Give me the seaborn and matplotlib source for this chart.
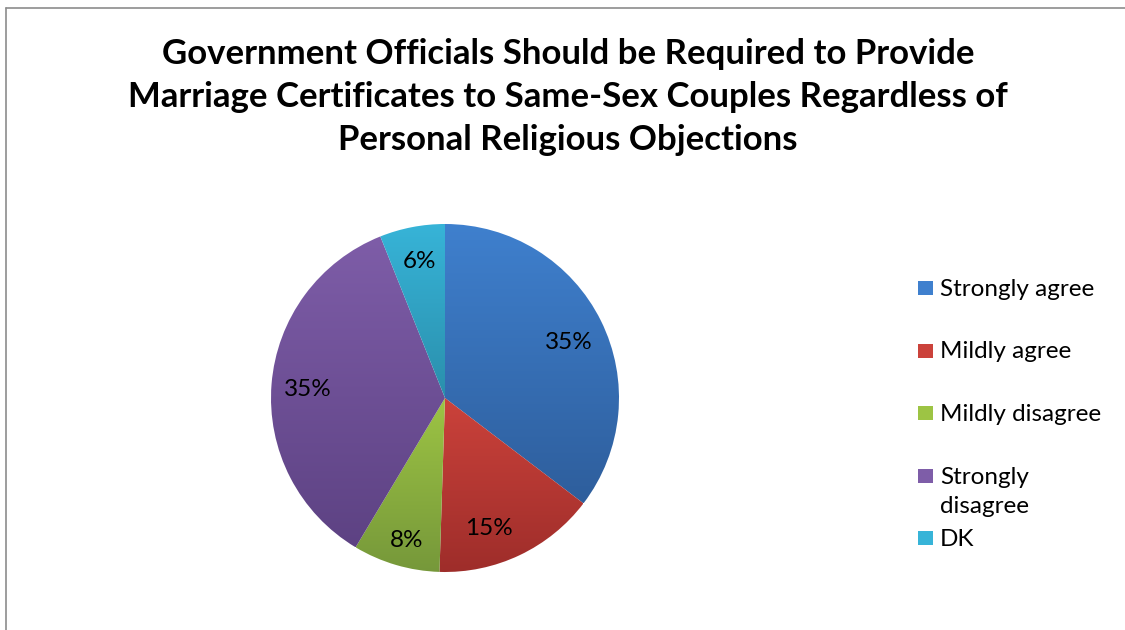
import numpy as np
import matplotlib
matplotlib.use("Agg")
import matplotlib.pyplot as plt
import seaborn as sns
from matplotlib.colors import LinearSegmentedColormap
from matplotlib.patches import Rectangle
from matplotlib.lines import Line2D

# Survey responses (percent)
categories = ["Strongly agree", "Mildly agree", "Mildly disagree", "Strongly disagree", "DK"]
legend_labels = ["Strongly agree", "Mildly agree", "Mildly disagree", "Strongly\ndisagree", "DK"]
values = [35, 15, 8, 35, 6]

# light (top) / dark (bottom) shade for each slice
top_colors = ["#3F80CE", "#CB423B", "#9DC444", "#7E5DA8", "#37B4D8"]
bottom_colors = ["#2E5E9C", "#9E2D2A", "#76983A", "#5D4283", "#2A8FAC"]

title = ("Government Officials Should be Required to Provide\n"
         "Marriage Certificates to Same-Sex Couples Regardless of\n"
         "Personal Religious Objections")

sns.set_theme(style="white")
plt.rcParams["font.family"] = ["Lato", "DejaVu Sans"]

W, H = 1125, 630
fig = plt.figure(figsize=(W / 100, H / 100), dpi=100)
fig.patch.set_facecolor("white")

# chart frame (left and top edges visible)
fig.add_artist(Line2D([6 / W, 6 / W], [0, 1 - 8 / H], color="#8c8c8c", lw=1.2,
                      transform=fig.transFigure))
fig.add_artist(Line2D([6 / W, 1], [1 - 8 / H, 1 - 8 / H], color="#8c8c8c", lw=1.2,
                      transform=fig.transFigure))

fig.text(568 / W, 1 - 97 / H, title, ha="center", va="center", fontsize=25,
         fontweight="bold", linespacing=1.42, color="black")

# pie axes: center (445, 398) px, radius 174 px
cx, cy, r = 445, 398, 174
half = 185
ax = fig.add_axes([(cx - half) / W, 1 - (cy + half) / H, 2 * half / W, 2 * half / H])
lim = half / r
ax.set_xlim(-lim, lim)
ax.set_ylim(-lim, lim)
ax.set_aspect("equal")
ax.axis("off")

wedges, _ = ax.pie(values, startangle=90, counterclock=False, radius=1.0,
                   colors=top_colors, wedgeprops=dict(linewidth=0))

# vertical gradient inside each slice
for w, c_top, c_bot in zip(wedges, top_colors, bottom_colors):
    cmap = LinearSegmentedColormap.from_list("g", [c_bot, c_top])
    verts = w.get_path().vertices
    ymin, ymax = verts[:, 1].min(), verts[:, 1].max()
    xmin, xmax = verts[:, 0].min(), verts[:, 0].max()
    grad = np.linspace(0, 1, 256).reshape(-1, 1)
    im = ax.imshow(grad, cmap=cmap, origin="lower", aspect="auto",
                   extent=[xmin, xmax, ymin, ymax], zorder=2, interpolation="bicubic")
    im.set_clip_path(w)
    w.set_facecolor("none")

ax.set_xlim(-lim, lim)
ax.set_ylim(-lim, lim)

# percentage labels placed along each slice's bisector
total = sum(values)
label_radius = [0.78, 0.79, 0.85, 0.79, 0.80]
label_shift = [-2.0, -7.0, 1.5, 1.0, -0.5]  # degrees
start = 90.0
for v, rad, sh in zip(values, label_radius, label_shift):
    sweep = 360.0 * v / total
    mid = np.deg2rad(start - sweep / 2 + sh)
    ax.text(rad * np.cos(mid), rad * np.sin(mid), f"{v}%", ha="center", va="center",
            fontsize=17.5, color="black", zorder=5)
    start -= sweep

# legend
y0 = 288
step = 62.5
for i, (lab, c_top, c_bot) in enumerate(zip(legend_labels, top_colors, bottom_colors)):
    y = y0 + i * step
    fig.add_artist(Rectangle((918 / W, 1 - (y + 7) / H), 15 / W, 14 / H,
                             transform=fig.transFigure, facecolor=c_top,
                             edgecolor="none"))
    fig.text(940 / W, 1 - (y - 9) / H, lab, ha="left", va="top", fontsize=17.5,
             color="black", linespacing=1.5)

fig.savefig("out.png", dpi=100, facecolor="white")
